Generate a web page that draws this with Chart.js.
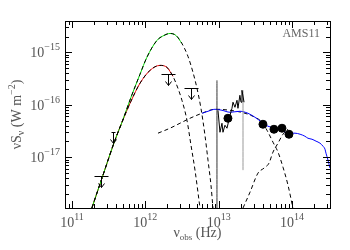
<!DOCTYPE html>
<html>
<head>
<meta charset="utf-8">
<script src="https://cdn.jsdelivr.net/npm/chart.js@4.4.0/dist/chart.umd.min.js"></script>
<style>
  html, body { margin: 0; padding: 0; background: #fff; }
  canvas { display: block; }
</style>
</head>
<body>
<canvas id="sed" width="350" height="250"></canvas>
<script>
// nu (Hz) and nuS_nu (W m^-2)

// cold dust fit, upper (green)
const fitANu   = [1.87e11, 2.65e11, 3.86e11, 4.81e11, 6.38e11, 8.46e11, 1.05e12, 1.44e12, 1.80e12, 2.17e12,
                  2.62e12, 3.16e12, 3.82e12, 4.47e12, 5.07e12, 5.74e12, 6.51e12, 7.16e12, 7.86e12, 8.37e12];
const fitAFlux = [1.07e-18, 4.54e-18, 2.11e-17, 4.64e-17, 1.39e-16, 3.81e-16, 8.03e-16, 1.69e-15, 2.11e-15, 2.30e-15,
                  2.11e-15, 1.48e-15, 8.39e-16, 4.16e-16, 2.06e-16, 8.57e-17, 2.62e-17, 8.77e-18, 2.93e-18, 1.07e-18];
const fitASolidMax = 3.2e12;

// cold dust fit, lower (red)
const fitBNu   = [1.87e11, 2.65e11, 3.86e11, 4.81e11, 6.38e11, 8.46e11, 1.16e12, 1.585e12, 1.975e12, 2.385e12,
                  2.79e12, 3.16e12, 3.70e12, 4.20e12, 4.76e12, 5.57e12];
const fitBFlux = [1.07e-18, 4.54e-18, 2.11e-17, 4.64e-17, 1.17e-16, 2.57e-16, 4.54e-16, 5.65e-16, 5.18e-16, 3.49e-16,
                  2.06e-16, 1.22e-16, 5.07e-17, 1.69e-17, 5.65e-18, 1.07e-18];
const fitBSolidMax = 2.5e12;

// hot dust / AGN component (dashed)
const agnNu   = [1.49e12, 2.17e12, 2.97e12, 4.07e12, 5.93e12, 8.91e12, 1.43e13, 2.29e13, 3.13e13, 3.78e13,
                 4.56e13, 5.51e13, 6.45e13, 7.54e13, 8.82e13, 1.03e14];
const agnFlux = [2.87e-17, 3.57e-17, 4.44e-17, 5.53e-17, 6.89e-17, 8.21e-17, 7.86e-17, 6.89e-17, 5.78e-17, 4.85e-17,
                 3.27e-17, 1.93e-17, 1.25e-17, 6.45e-18, 2.93e-18, 1.07e-18];

// stellar component (dashed)
const starNu   = [2.15e13, 2.68e13, 3.44e13, 4.15e13, 4.86e13, 5.51e13, 6.45e13, 7.54e13, 8.82e13];
const starFlux = [1.07e-18, 2.15e-18, 4.96e-18, 6.17e-18, 7.69e-18, 1.25e-17, 1.85e-17, 2.74e-17, 3.41e-17];

// total model (blue)
const totalNu   = [5.93e12, 7.16e12, 8.91e12, 1.11e13, 1.43e13, 1.95e13, 2.51e13, 3.13e13, 3.90e13, 4.71e13,
                   5.87e13, 7.31e13, 8.82e13, 1.10e14, 1.29e14, 1.50e14, 1.65e14, 1.875e14, 2.13e14, 2.41e14,
                   2.65e14, 2.82e14, 2.91e14, 3.10e14, 3.30e14];
const totalFlux = [6.89e-17, 7.52e-17, 8.21e-17, 7.86e-17, 7.20e-17, 7.52e-17, 6.89e-17, 5.78e-17, 4.64e-17, 3.90e-17,
                   3.57e-17, 3.27e-17, 2.87e-17, 2.87e-17, 2.74e-17, 2.51e-17, 2.30e-17, 2.20e-17, 2.02e-17, 1.85e-17,
                   1.62e-17, 1.42e-17, 1.19e-17, 8.77e-18, 6.17e-18];

// mid-IR spectrum (black)
const irsNu   = [9.79e12, 1.043e13, 1.111e13, 1.146e13, 1.22e13, 1.30e13, 1.43e13, 1.52e13, 1.57e13, 1.67e13,
                 1.78e13, 1.835e13, 1.95e13, 2.02e13, 2.08e13, 2.22e13];
const irsFlux = [7.86e-17, 2.99e-17, 4.44e-17, 2.99e-17, 4.07e-17, 3.57e-17, 6.31e-17, 8.57e-17, 1.12e-16, 8.96e-17,
                 1.22e-16, 8.57e-17, 1.52e-16, 1.12e-16, 1.89e-16, 1.12e-16];

// spikes in the spectrum
const spikeNu     = [9.49e12, 2.15e13];
const spikeTop    = [2.93e-16, 1.89e-16];
const spikeBottom = [1.0e-18, 5.65e-18];

// photometry (filled dots)
const photNu   = [1.34e13, 4.02e13, 5.68e13, 7.31e13, 9.10e13];
const photFlux = [5.53e-17, 4.25e-17, 3.41e-17, 3.57e-17, 2.74e-17];

// upper limits
const limNu   = [2.49e11, 3.62e11, 2.04e12, 4.20e12];
const limFlux = [4.35e-18, 2.99e-17, 3.81e-16, 2.06e-16];
const limBarHalf = [7, 2, 7, 7]; // bar half-width, px

const pts = (xs, ys) => xs.map((x, i) => ({ x, y: ys[i] }));

const curve = (xs, ys, color, extra) => Object.assign({
  data: pts(xs, ys),
  showLine: true,
  borderColor: color,
  borderWidth: 1,
  pointRadius: 0,
  fill: false,
  cubicInterpolationMode: 'monotone'
}, extra);

const cut = (xs, ys, max) => {
  const keep = xs.map((x) => x <= max);
  return [xs.filter((_, i) => keep[i]), ys.filter((_, i) => keep[i])];
};

const [fitASolidNu, fitASolidFlux] = cut(fitANu, fitAFlux, fitASolidMax);
const [fitBSolidNu, fitBSolidFlux] = cut(fitBNu, fitBFlux, fitBSolidMax);

const TEXT = '#555';
const SERIF = '"Liberation Serif", "DejaVu Serif", serif';

// text with sub/superscripts, parts = [[text, size, dy], ...]
function drawRich(ctx, parts, x, y, align) {
  let w = 0;
  parts.forEach(([t, s]) => { ctx.font = s + 'px ' + SERIF; w += ctx.measureText(t).width; });
  let cx = align === 'center' ? x - w / 2 : align === 'right' ? x - w : x;
  ctx.textAlign = 'left';
  ctx.textBaseline = 'alphabetic';
  parts.forEach(([t, s, dy]) => {
    ctx.font = s + 'px ' + SERIF;
    ctx.fillText(t, cx, y + (dy || 0));
    cx += ctx.measureText(t).width;
  });
}

const sup = (e) => String(e).replace('-', '\u2212');

// axes drawn like the original: box, inward ticks on all sides
const frame = {
  id: 'frame',
  afterDraw(chart) {
    const { ctx, chartArea: a, scales: { x, y } } = chart;
    ctx.save();
    ctx.strokeStyle = '#000';
    ctx.lineWidth = 1;
    ctx.strokeRect(Math.round(a.left) + 0.5, Math.round(a.top) + 0.5,
      Math.round(a.right - a.left), Math.round(a.bottom - a.top));

    const ticks = (scale) => {
      const out = [];
      for (let e = Math.floor(Math.log10(scale.min)); e <= Math.ceil(Math.log10(scale.max)); e++) {
        for (let m = 1; m < 10; m++) {
          const v = m * Math.pow(10, e);
          if (v >= scale.min && v <= scale.max) out.push({ v, e, major: m === 1 });
        }
      }
      return out;
    };

    ctx.beginPath();
    ticks(x).forEach((t) => {
      const px = Math.round(x.getPixelForValue(t.v)) + 0.5;
      const len = t.major ? 7 : 4;
      ctx.moveTo(px, a.bottom); ctx.lineTo(px, a.bottom - len);
      ctx.moveTo(px, a.top); ctx.lineTo(px, a.top + len);
    });
    ticks(y).forEach((t) => {
      const py = Math.round(y.getPixelForValue(t.v)) + 0.5;
      const len = t.major ? 7 : 4;
      ctx.moveTo(a.left, py); ctx.lineTo(a.left + len, py);
      ctx.moveTo(a.right, py); ctx.lineTo(a.right - len, py);
    });
    ctx.stroke();

    ctx.fillStyle = TEXT;
    ticks(x).filter((t) => t.major).forEach((t) => {
      drawRich(ctx, [['10', 14], [sup(t.e), 10, -7]], x.getPixelForValue(t.v), a.bottom + 19, 'center');
    });
    ticks(y).filter((t) => t.major).forEach((t) => {
      drawRich(ctx, [['10', 14], [sup(t.e), 10, -7]], a.left - 5, y.getPixelForValue(t.v) + 5, 'right');
    });

    drawRich(ctx, [['\u03bd', 14], ['obs', 9, 3], [' (Hz)', 14]], (a.left + a.right) / 2, 237, 'center');

    ctx.translate(21, (a.top + a.bottom) / 2);
    ctx.rotate(-Math.PI / 2);
    drawRich(ctx, [['\u03bdS', 14], ['\u03bd', 10, 3], [' (W m', 14], ['\u22122', 10, -6], [')', 14]], 0, 0, 'center');
    ctx.restore();

    ctx.save();
    ctx.fillStyle = '#666';
    drawRich(ctx, [['AMS11', 12]], a.right - 10, 37, 'right');
    ctx.restore();
  }
};

// upper limits: bar plus arrow pointing down
const upperLimits = {
  id: 'upperLimits',
  afterDatasetsDraw(chart) {
    const { ctx, scales: { x, y } } = chart;
    ctx.save();
    ctx.strokeStyle = '#000';
    ctx.lineWidth = 1;
    limNu.forEach((nu, i) => {
      const px = Math.round(x.getPixelForValue(nu)) + 0.5;
      const py = Math.round(y.getPixelForValue(limFlux[i])) + 0.5;
      const w = limBarHalf[i];
      ctx.beginPath();
      ctx.moveTo(px - w, py); ctx.lineTo(px + w, py);
      ctx.moveTo(px, py); ctx.lineTo(px, py + 11);
      ctx.moveTo(px - 3, py + 7); ctx.lineTo(px, py + 11); ctx.lineTo(px + 3, py + 7);
      ctx.stroke();
    });
    ctx.restore();
  }
};

const dashed = { borderDash: [4, 3], order: 4 };

new Chart(document.getElementById('sed').getContext('2d'), {
  type: 'scatter',
  data: {
    datasets: [
      { data: pts(photNu, photFlux), showLine: false, pointRadius: 4, pointHoverRadius: 4,
        backgroundColor: '#000', borderColor: '#000', order: 0 },
      curve(irsNu, irsFlux, '#000', { cubicInterpolationMode: 'default', tension: 0, order: 1 }),
      curve([spikeNu[0], spikeNu[0]], [spikeTop[0], spikeBottom[0]], '#333', { order: 2 }),
      curve([spikeNu[1], spikeNu[1]], [spikeTop[1], spikeBottom[1]], '#999', { order: 2 }),
      curve(totalNu, totalFlux, '#0000ff', { order: 3 }),
      curve(fitANu, fitAFlux, '#000', dashed),
      curve(fitBNu, fitBFlux, '#000', dashed),
      curve(agnNu, agnFlux, '#000', dashed),
      curve(starNu, starFlux, '#000', dashed),
      curve(fitASolidNu, fitASolidFlux, '#00dd00', { order: 5 }),
      curve(fitBSolidNu, fitBSolidFlux, '#ee0000', { order: 5 })
    ]
  },
  options: {
    responsive: false,
    animation: false,
    events: [],
    layout: { padding: { top: 21, right: 20, left: 0, bottom: 0 } },
    plugins: { legend: { display: false }, tooltip: { enabled: false } },
    scales: {
      x: {
        type: 'logarithmic', min: 8.04e10, max: 3.30e14,
        grid: { display: false }, border: { display: false }, ticks: { display: false },
        afterFit: (s) => { s.height = 42; }
      },
      y: {
        type: 'logarithmic', min: 1.07e-18, max: 3.98e-15,
        grid: { display: false }, border: { display: false }, ticks: { display: false },
        afterFit: (s) => { s.width = 65; }
      }
    }
  },
  plugins: [upperLimits, frame]
});
</script>
</body>
</html>
